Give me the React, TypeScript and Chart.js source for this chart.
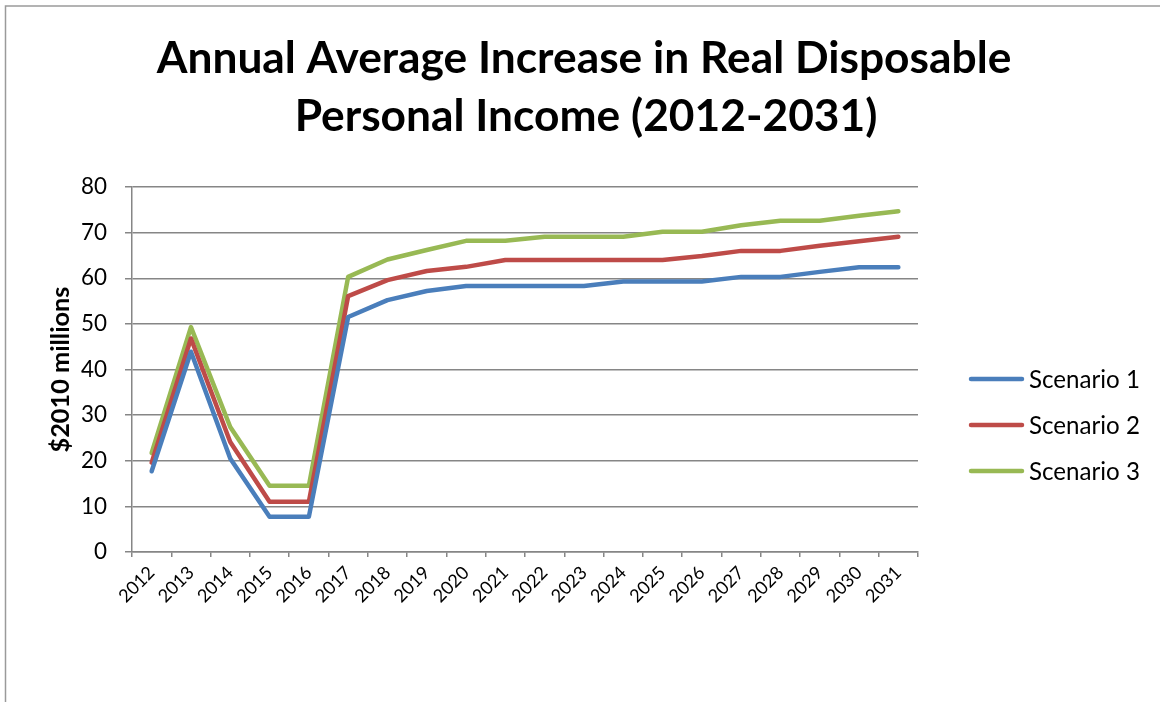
import React, { useEffect, useRef } from "react";
import { Chart, registerables } from "chart.js";

Chart.register(...registerables);

const years = ["2012","2013","2014","2015","2016","2017","2018","2019","2020","2021","2022","2023","2024","2025","2026","2027","2028","2029","2030","2031"];
const scenario1 = [17.7, 43.9, 20.5, 7.7, 7.7, 51.5, 55.2, 57.2, 58.3, 58.3, 58.3, 58.3, 59.3, 59.3, 59.3, 60.3, 60.3, 61.4, 62.4, 62.4];
const scenario2 = [19.6, 46.8, 24.1, 11.0, 11.0, 56.1, 59.6, 61.6, 62.5, 64.0, 64.0, 64.0, 64.0, 64.0, 64.9, 66.0, 66.0, 67.1, 68.1, 69.1];
const scenario3 = [21.7, 49.3, 27.4, 14.5, 14.5, 60.3, 64.1, 66.2, 68.2, 68.2, 69.1, 69.1, 69.1, 70.2, 70.2, 71.6, 72.6, 72.6, 73.7, 74.7];
const seriesNames = ["Scenario 1", "Scenario 2", "Scenario 3"];
const seriesColors = ["#4A7EBB", "#BE4B48", "#98B954"];
const titleLines = ["Annual Average Increase in Real Disposable", "Personal Income (2012-2031)"];
const yTitle = "$2010 millions";

const FAMILY = "Lato, 'Open Sans', sans-serif";
const GRID = "#868686";

function fitSize(text: string, weight: string, target: number): number {
  const c = document.createElement("canvas");
  const ctx = c.getContext("2d")!;
  ctx.font = `${weight} 100px ${FAMILY}`;
  const w = ctx.measureText(text).width;
  return (100 * target) / w;
}

export default function App() {
  const ref = useRef<HTMLCanvasElement | null>(null);

  useEffect(() => {
    const canvas = ref.current;
    if (!canvas) return;
    const titleSize = fitSize(titleLines[0], "bold", 855);
    const legendSize = fitSize("Scenario 1", "normal", 111);
    const yTickSize = fitSize("80", "normal", 26);
    const xTickSize = fitSize("2012", "normal", 42);
    const yTitleSize = fitSize(yTitle, "bold", 166);

    const decor = {
      id: "decor",
      afterDraw(chart: any) {
        const ctx = chart.ctx as CanvasRenderingContext2D;
        ctx.save();
        // frame
        ctx.strokeStyle = "#9a9a9a";
        ctx.lineWidth = 1.5;
        ctx.beginPath();
        ctx.moveTo(5.5, 702);
        ctx.lineTo(5.5, 6);
        ctx.lineTo(1160, 6);
        ctx.stroke();
        // title
        ctx.fillStyle = "#000";
        ctx.textAlign = "center";
        ctx.textBaseline = "alphabetic";
        ctx.font = `bold ${titleSize}px ${FAMILY}`;
        ctx.fillText(titleLines[0], 584, 73);
        ctx.fillText(titleLines[1], 586, 131);
        // legend
        ctx.textAlign = "left";
        ctx.textBaseline = "middle";
        ctx.font = `${legendSize}px ${FAMILY}`;
        seriesNames.forEach((name, i) => {
          const y = 379 + i * 46;
          ctx.strokeStyle = seriesColors[i];
          ctx.lineWidth = 4.5;
          ctx.lineCap = "round";
          ctx.beginPath();
          ctx.moveTo(971, y);
          ctx.lineTo(1022, y);
          ctx.stroke();
          ctx.fillStyle = "#000";
          ctx.fillText(name, 1029, y + 1);
        });
        ctx.restore();
      },
    };

    const datasets = [scenario1, scenario2, scenario3].map((d, i) => ({
      label: seriesNames[i],
      data: d,
      borderColor: seriesColors[i],
      backgroundColor: seriesColors[i],
      borderWidth: 4.5,
      pointRadius: 0,
      tension: 0,
      borderCapStyle: "round" as const,
      borderJoinStyle: "round" as const,
      fill: false,
    }));

    const chart = new Chart(canvas, {
      type: "line",
      data: { labels: years, datasets },
      options: {
        responsive: false,
        animation: false,
        layout: { padding: { top: 187, right: 242, bottom: 0, left: 0 } },
        plugins: {
          legend: { display: false },
          title: { display: false },
          tooltip: { enabled: false },
        },
        scales: {
          x: {
            type: "category",
            offset: true,
            grid: {
              display: true,
              drawOnChartArea: false,
              drawTicks: true,
              offset: true,
              tickLength: 5,
              color: GRID,
              lineWidth: 1.5,
            },
            border: { display: true, color: GRID, width: 1.5 },
            ticks: {
              minRotation: 45,
              maxRotation: 45,
              autoSkip: false,
              padding: 5,
              color: "#000",
              font: { family: FAMILY, size: xTickSize },
            },
            afterFit(scale: any) {
              scale.height = 150;
            },
          },
          y: {
            min: 0,
            max: 80,
            ticks: {
              stepSize: 10,
              padding: 18,
              color: "#000",
              font: { family: FAMILY, size: yTickSize },
            },
            grid: {
              color: GRID,
              lineWidth: 1.5,
              tickLength: 7,
            },
            border: { display: true, color: GRID, width: 1.5 },
            title: {
              display: true,
              text: yTitle,
              color: "#000",
              font: { family: FAMILY, size: yTitleSize, weight: "bold" },
              padding: { top: 61 - (yTitleSize * 1.2) / 2, bottom: 0 },
            },
            afterFit(scale: any) {
              scale.width = 132;
            },
          },
        },
      },
      plugins: [decor],
    });
    return () => chart.destroy();
  }, []);

  return (
    <div style={{ position: "absolute", left: 0, top: 0, width: 1160, height: 702, background: "#fff" }}>
      <canvas ref={ref} width={1160} height={702} style={{ display: "block" }} />
    </div>
  );
}
